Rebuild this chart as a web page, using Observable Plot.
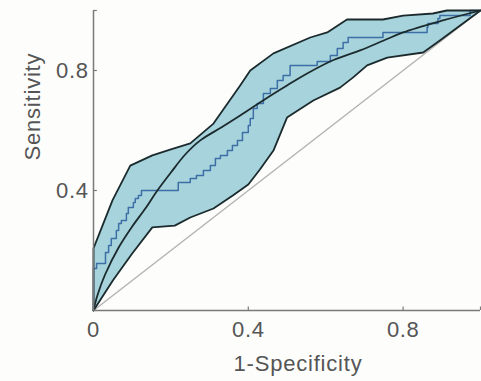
<!DOCTYPE html>
<html>
<head>
<meta charset="utf-8">
<script src="https://cdn.jsdelivr.net/npm/d3@7"></script>
<script src="https://cdn.jsdelivr.net/npm/@observablehq/plot@0.6"></script>
<style>
  html, body { margin: 0; padding: 0; background: #fdfdfb; }
  #chart svg { display: block; }
</style>
</head>
<body>
<div id="chart"></div>
<script>
// Upper confidence boundary (1-Specificity, Sensitivity)
const upperX = [0, 0, 0.049, 0.095, 0.152, 0.2, 0.25, 0.31, 0.379, 0.405, 0.465, 0.56, 0.604, 0.655, 0.748, 0.80, 0.877, 0.913, 1];
const upperY = [0, 0.207, 0.367, 0.483, 0.517, 0.537, 0.557, 0.623, 0.75, 0.8, 0.857, 0.91, 0.927, 0.97, 0.97, 0.983, 0.99, 1.0, 1];
// Lower confidence boundary
const lowerX = [0, 0.05, 0.1, 0.152, 0.21, 0.25, 0.31, 0.36, 0.40, 0.43, 0.465, 0.5, 0.568, 0.637, 0.671, 0.707, 0.759, 0.852, 0.895, 1];
const lowerY = [0, 0.1, 0.19, 0.277, 0.283, 0.31, 0.34, 0.383, 0.42, 0.47, 0.533, 0.643, 0.70, 0.743, 0.777, 0.817, 0.843, 0.86, 0.9, 1];
// Fitted smooth ROC curve
const fitX = [0, 0.01, 0.03, 0.065, 0.1, 0.134, 0.165, 0.2, 0.237, 0.276, 0.33, 0.379, 0.45, 0.5, 0.552, 0.62, 0.689, 0.75, 0.8, 0.903, 1];
const fitY = [0, 0.05, 0.12, 0.21, 0.28, 0.34, 0.4, 0.46, 0.52, 0.567, 0.61, 0.65, 0.71, 0.75, 0.79, 0.835, 0.867, 0.9, 0.927, 0.967, 1];
// Empirical ROC (staircase)
const empX = [0, 0, 0.008, 0.013, 0.031, 0.039, 0.046, 0.059, 0.065, 0.072, 0.085, 0.09, 0.103, 0.108, 0.116, 0.124, 0.129, 0.219, 0.219, 0.25, 0.266, 0.284, 0.302, 0.315, 0.328, 0.346, 0.359, 0.372, 0.385, 0.40, 0.405, 0.413, 0.423, 0.439, 0.457, 0.475, 0.49, 0.508, 0.521, 0.578, 0.612, 0.63, 0.645, 0.658, 0.663, 0.748, 0.748, 0.862, 0.864, 0.89, 0.895, 0.908, 0.973, 1];
const empY = [0, 0.10, 0.14, 0.157, 0.157, 0.193, 0.217, 0.24, 0.267, 0.29, 0.30, 0.323, 0.343, 0.36, 0.373, 0.383, 0.40, 0.40, 0.42, 0.427, 0.44, 0.45, 0.467, 0.483, 0.507, 0.517, 0.533, 0.55, 0.567, 0.593, 0.617, 0.64, 0.673, 0.69, 0.723, 0.74, 0.767, 0.783, 0.817, 0.817, 0.83, 0.85, 0.873, 0.893, 0.91, 0.91, 0.927, 0.927, 0.943, 0.957, 0.973, 0.983, 0.983, 1];
// Chance diagonal
const chanceX = [0, 1];
const chanceY = [0, 1];
// Ticks
const xTicks = [0, 0.4, 0.8];
const yTicks = [0.4, 0.8];
const xTickMarks = [0.4, 0.8, 1];
const yTickMarks = [0.4, 0.8, 1];

const zip = (xs, ys) => xs.map((x, i) => ({x, y: ys[i]}));
const band = zip(upperX, upperY).concat(zip(lowerX, lowerY).reverse());
const fit = zip(fitX, fitY);
const emp = zip(empX, empY);
const chance = zip(chanceX, chanceY);

const axisColor = "#7a7a7a";
const textColor = "#555";

const plot = Plot.plot({
  width: 481,
  height: 381,
  marginLeft: 93,
  marginRight: 1,
  marginTop: 10,
  marginBottom: 71,
  style: {fontFamily: "'Liberation Sans', Arial, Helvetica, sans-serif", background: "#fdfdfb", color: textColor},
  x: {domain: [0, 1]},
  y: {domain: [0, 1]},
  marks: [
    Plot.line(chance, {x: "x", y: "y", stroke: "#b4b4b4", strokeWidth: 1.5}),
    Plot.line(band, {x: "x", y: "y", fill: "#a6d3dc", stroke: "none"}),
    Plot.line(emp, {x: "x", y: "y", curve: "step-before", stroke: "#3d6fa6", strokeWidth: 1.5}),
    Plot.line(fit, {x: "x", y: "y", curve: "catmull-rom", stroke: "#1b2a2d", strokeWidth: 1.8}),
    Plot.line(band, {x: "x", y: "y", fill: "none", stroke: "#1b2a2d", strokeWidth: 1.8, strokeLinejoin: "round"}),
    Plot.ruleY([0], {stroke: axisColor, strokeWidth: 1.5}),
    Plot.ruleX([0], {stroke: axisColor, strokeWidth: 1.5}),
    Plot.ruleX(xTickMarks, {y1: 0, y2: 0.012, stroke: axisColor, strokeWidth: 1.2}),
    Plot.ruleY(yTickMarks, {x1: 0, x2: 0.01, stroke: axisColor, strokeWidth: 1.2}),
    Plot.axisX(xTicks, {tickSize: 0, tickPadding: 11, fontSize: 22, tickFormat: d => String(d), label: null, fill: textColor}),
    Plot.axisY(yTicks, {tickSize: 0, tickPadding: 5, fontSize: 22, tickFormat: d => String(d), label: null, fill: textColor}),
    Plot.text(["1-Specificity"], {frameAnchor: "bottom", lineAnchor: "top", dy: 45, dx: 11, fontSize: 22, fill: textColor}),
    Plot.text(["Sensitivity"], {frameAnchor: "left", rotate: -90, dx: -61, fontSize: 22, fill: textColor})
  ]
});
plot.querySelectorAll("text").forEach(t => {
  const s = t.textContent;
  t.style.letterSpacing = s.length > 4 ? "0.8px" : "0.6px";
});
document.getElementById("chart").appendChild(plot);
</script>
</body>
</html>
